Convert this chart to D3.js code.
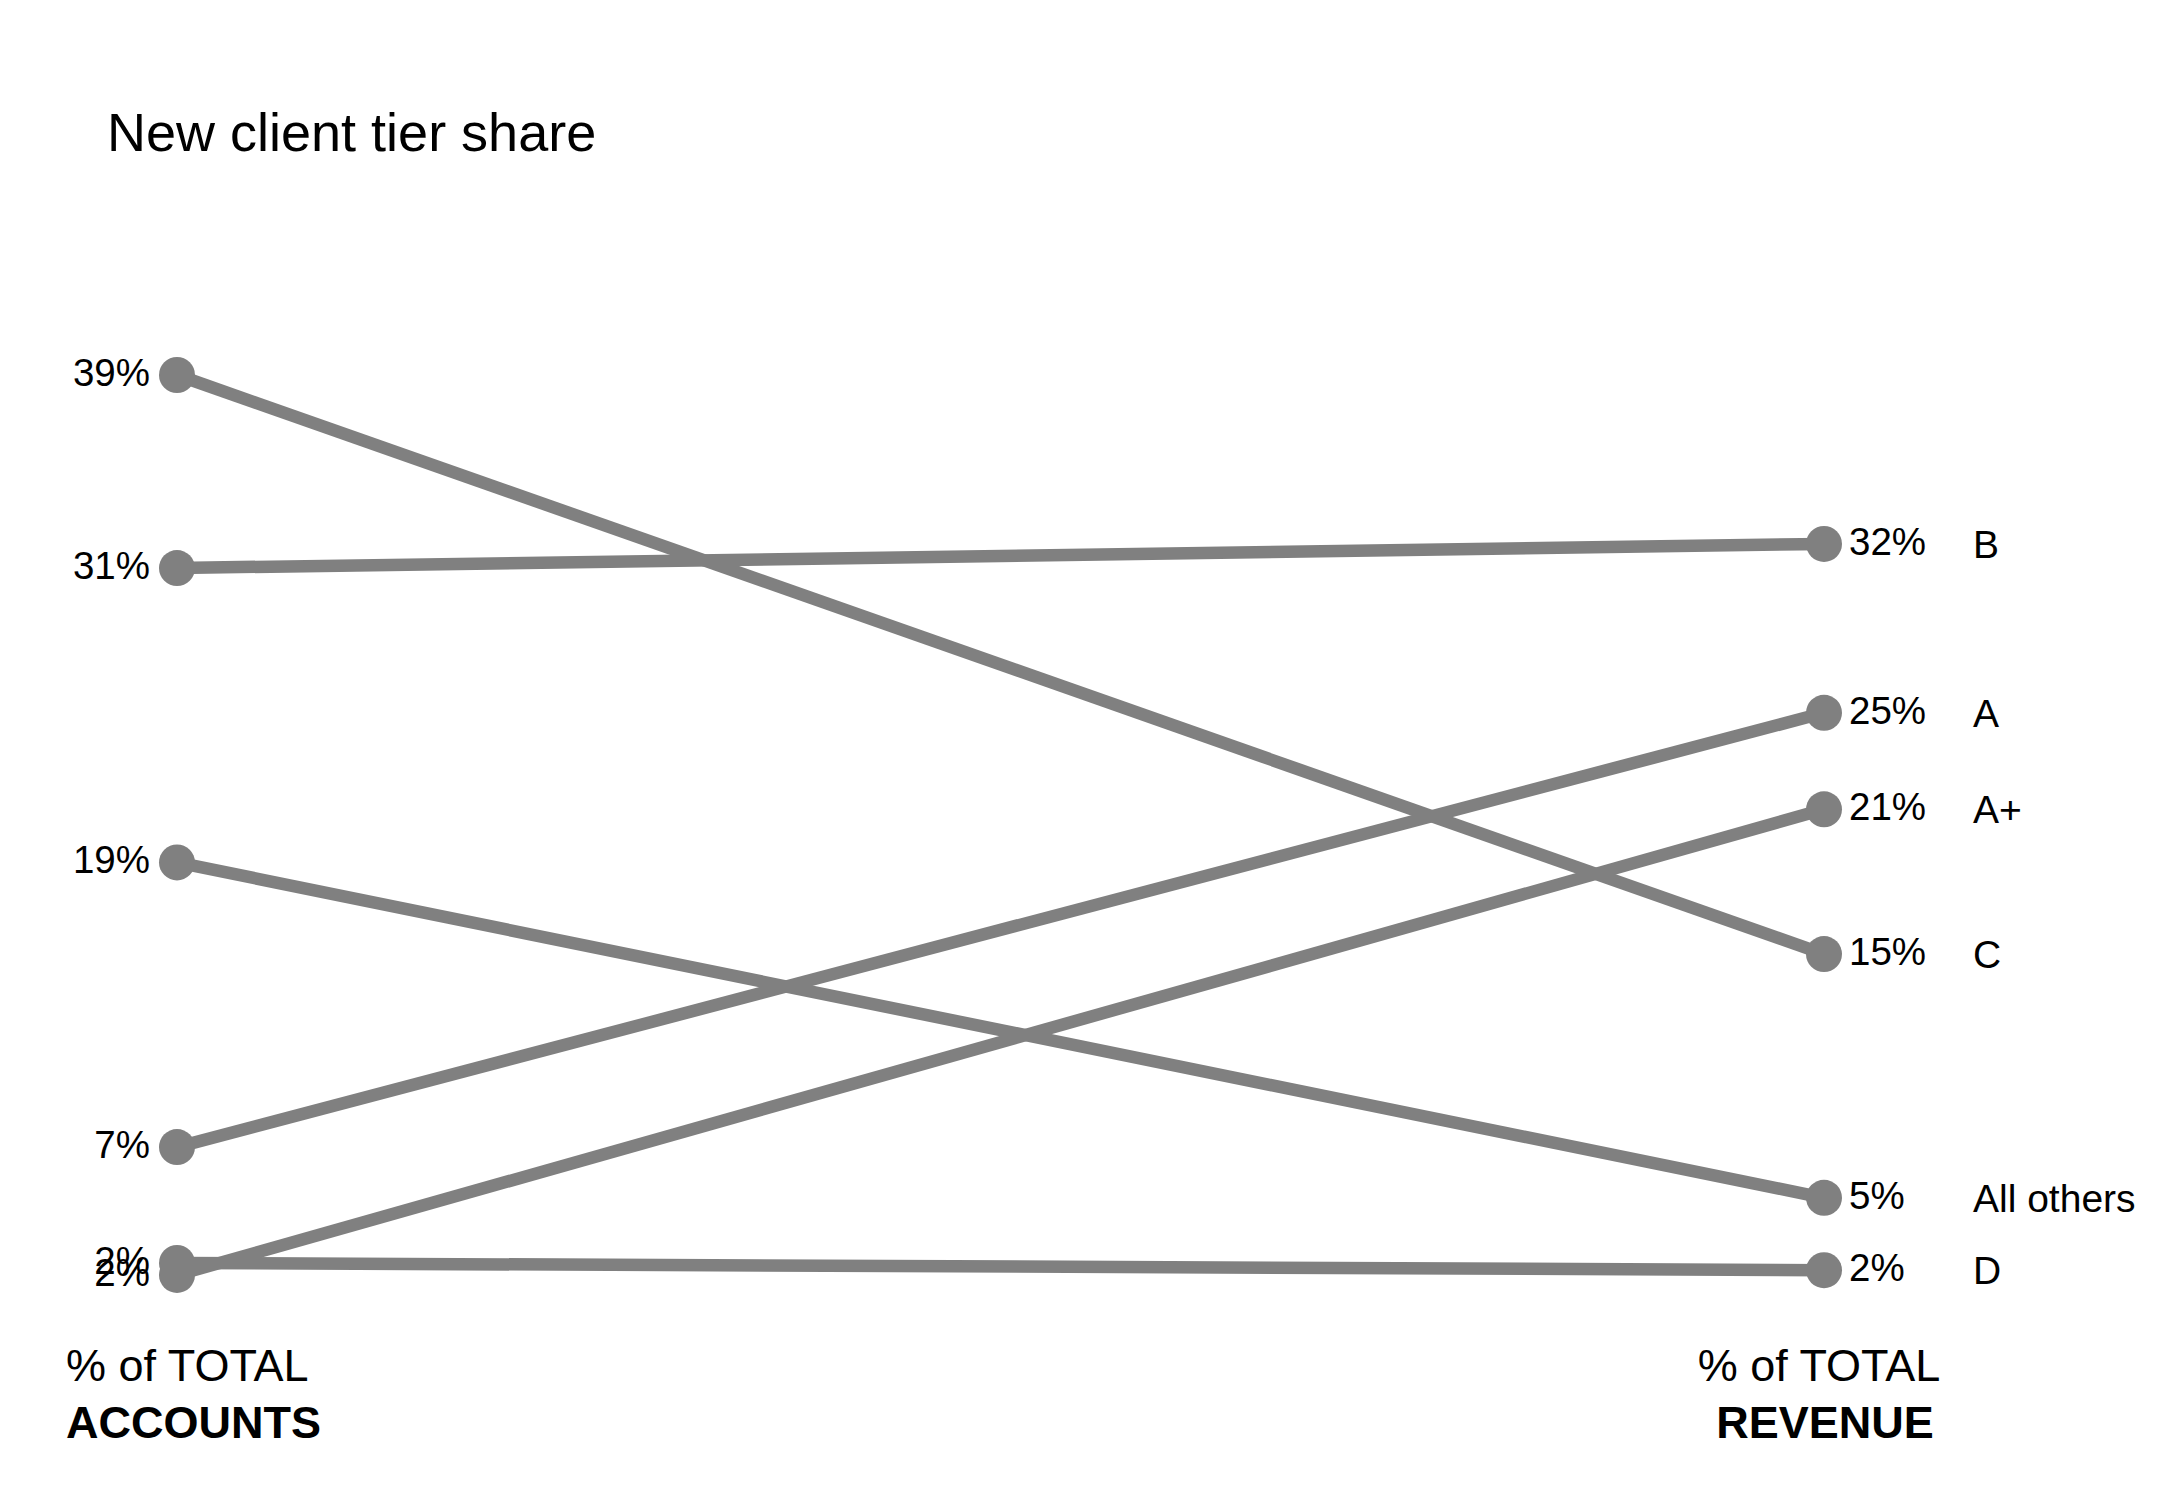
<!DOCTYPE html>
<html>
<head>
<meta charset="utf-8">
<script src="https://cdn.jsdelivr.net/npm/d3@7"></script>
<style>
  html, body { margin: 0; padding: 0; background: #ffffff; }
  svg { display: block; font-family: "Liberation Sans", Arial, sans-serif; }
</style>
</head>
<body>
<svg id="chart" width="2175" height="1500"></svg>
<script>
// ---- data ----
const categories = ["C", "B", "All others", "A", "A+", "D"];
const accountsShare = [39, 31, 18.8, 7, 1.7, 2.2];   // % of total accounts
const revenueShare  = [15, 32, 4.9, 25, 21, 1.9];     // % of total revenue
const columns = ["accounts", "revenue"];
const columnLabelTop = ["% of TOTAL", "% of TOTAL"];
const columnLabelBottom = ["ACCOUNTS", "REVENUE"];
const titleText = "New client tier share";

// ---- build ----
const rows = categories.map((c, i) => ({ name: c, accounts: accountsShare[i], revenue: revenueShare[i] }));

const svg = d3.select("#chart");
const grey = "#808080";

const x = d3.scalePoint().domain(columns).range([177, 1824]);
const y = d3.scaleLinear().domain([0, 39]).range([1316, 375]);
const fmt = v => d3.format(".0f")(v) + "%";

// title
svg.append("text")
  .attr("x", 107).attr("y", 151)
  .attr("font-size", 54)
  .attr("fill", "#000")
  .text(titleText);

// lines
svg.append("g").selectAll("line")
  .data(rows).join("line")
  .attr("x1", x("accounts")).attr("y1", d => y(d.accounts))
  .attr("x2", x("revenue")).attr("y2", d => y(d.revenue))
  .attr("stroke", grey).attr("stroke-width", 12.5);

// dots
columns.forEach(col => {
  svg.append("g").selectAll("circle")
    .data(rows).join("circle")
    .attr("cx", x(col)).attr("cy", d => y(d[col]))
    .attr("r", 18)
    .attr("fill", grey);
});

// left value labels
svg.append("g").selectAll("text")
  .data(rows).join("text")
  .attr("x", x("accounts") - 27)
  .attr("y", d => y(d.accounts) + 11)
  .attr("text-anchor", "end")
  .attr("font-size", 38.5)
  .attr("fill", "#000")
  .text(d => fmt(d.accounts));

// right value labels
svg.append("g").selectAll("text")
  .data(rows).join("text")
  .attr("x", x("revenue") + 25)
  .attr("y", d => y(d.revenue) + 11)
  .attr("font-size", 38.5)
  .attr("fill", "#000")
  .text(d => fmt(d.revenue));

// category labels
svg.append("g").selectAll("text")
  .data(rows).join("text")
  .attr("x", x("revenue") + 149)
  .attr("y", d => y(d.revenue) + 14)
  .attr("font-size", 39)
  .attr("fill", "#000")
  .text(d => d.name);

// column labels
const topX = [66, 1819];
const bottomX = [66, 1825];
columns.forEach((col, i) => {
  const left = i === 0;
  const g = svg.append("g");
  g.append("text")
    .attr("x", topX[i])
    .attr("y", 1381)
    .attr("text-anchor", left ? "start" : "middle")
    .attr("font-size", 45)
    .attr("fill", "#000")
    .text(columnLabelTop[i]);
  g.append("text")
    .attr("x", bottomX[i])
    .attr("y", 1438)
    .attr("text-anchor", left ? "start" : "middle")
    .attr("font-size", 45)
    .attr("font-weight", "bold")
    .attr("fill", "#000")
    .text(columnLabelBottom[i]);
});
</script>
</body>
</html>
